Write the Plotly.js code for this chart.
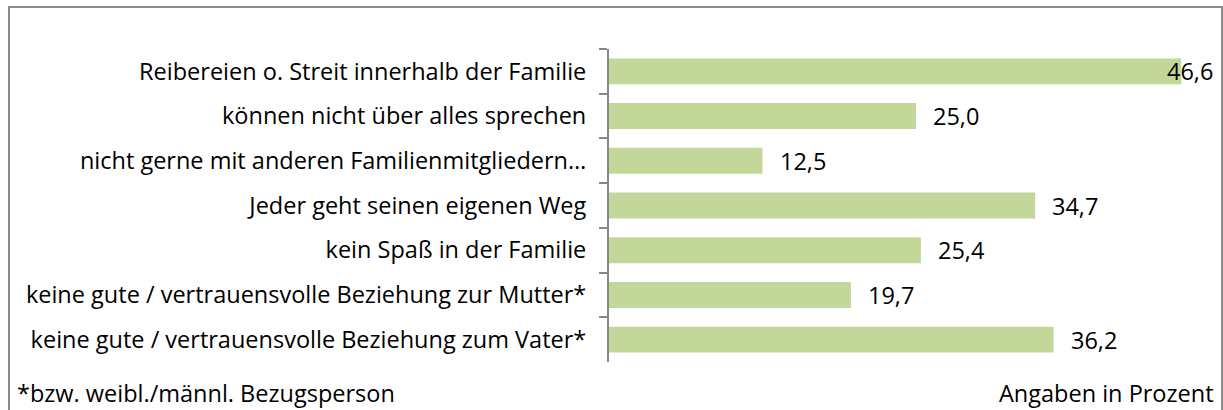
<!DOCTYPE html>
<html><head><meta charset="utf-8">
<script src="https://cdn.plot.ly/plotly-3.0.1.min.js"></script>
<style>
html,body{margin:0;padding:0;background:#fff;}
#wrap{position:relative;width:1223px;height:410px;overflow:hidden;}
#chart{position:absolute;left:0;top:0;width:1223px;height:410px;}
#frame{position:absolute;left:8px;top:6px;width:1211px;height:420px;border:2px solid #8c8c8c;pointer-events:none;}
</style></head>
<body><div id="wrap"><div id="chart"></div><div id="frame"></div></div>
<script>
const categories = [
  "Reibereien o. Streit innerhalb der Familie",
  "können nicht über alles sprechen",
  "nicht gerne mit anderen Familienmitgliedern…",
  "Jeder geht seinen eigenen Weg",
  "kein Spaß in der Familie",
  "keine gute / vertrauensvolle Beziehung zur Mutter*",
  "keine gute / vertrauensvolle Beziehung zum Vater*"
];
const values = [46.6, 25.0, 12.5, 34.7, 25.4, 19.7, 36.2];
const valueLabels = ["46,6", "25,0", "12,5", "34,7", "25,4", "19,7", "36,2"];
const footLeft = "*bzw. weibl./männl. Bezugsperson";
const footRight = "Angaben in Prozent";

const FONT = "'Open Sans', sans-serif";
const FS = 23.5;
const trace = {
  type: "bar", orientation: "h",
  x: values, y: categories,
  marker: {color: "#C4D79B"},
  width: 0.58, hoverinfo: "none"
};
const anns = values.map((v, i) => ({
  x: v, y: categories[i], xref: "x", yref: "y",
  text: valueLabels[i], showarrow: false,
  xanchor: "left", xshift: v > 45 ? -16 : 15,
  font: {family: FONT, size: FS, color: "#000"}
}));
anns.push({x: 0, y: 0, xref: "paper", yref: "paper", text: footLeft, showarrow: false,
  xanchor: "left", yanchor: "middle", xshift: -593, yshift: -31, borderpad: 0,
  font: {family: FONT, size: FS, color: "#000"}});
anns.push({x: 1, y: 0, xref: "paper", yref: "paper", text: footRight, showarrow: false,
  xanchor: "right", yanchor: "middle", xshift: 6, yshift: -31, borderpad: 0,
  font: {family: FONT, size: FS, color: "#000"}});

const layout = {
  width: 1223, height: 410,
  margin: {l: 609, r: 14, t: 49, b: 48},
  paper_bgcolor: "#fff", plot_bgcolor: "#fff",
  showlegend: false,
  xaxis: {range: [0, 48.86], visible: false, fixedrange: true},
  yaxis: {
    type: "category", autorange: "reversed",
    showline: true, linecolor: "#868686", linewidth: 2,
    ticks: "outside", tickson: "boundaries", ticklen: 8, tickcolor: "#868686", tickwidth: 2,
    showgrid: false, zeroline: false,
    tickfont: {family: FONT, size: FS, color: "#000"},
    ticklabelstandoff: 16
  },
  annotations: anns
};
Plotly.newPlot("chart", [trace], layout, {staticPlot: true});
</script></body></html>
